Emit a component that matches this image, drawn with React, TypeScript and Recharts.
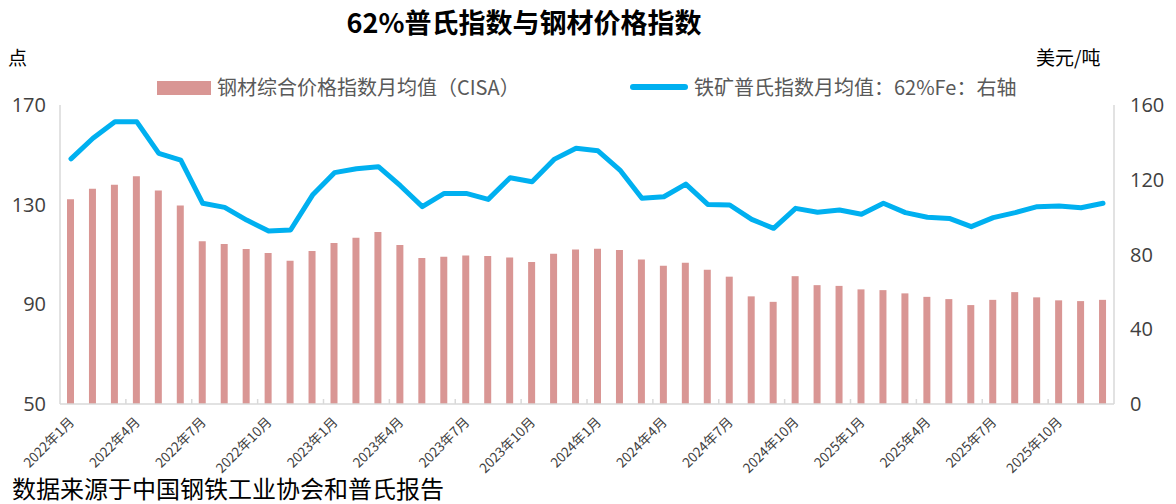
import React from "react";
import { ComposedChart, Bar, Line, XAxis, YAxis } from "recharts";

const months = [
  "2022年1月", "2022年2月", "2022年3月", "2022年4月", "2022年5月", "2022年6月",
  "2022年7月", "2022年8月", "2022年9月", "2022年10月", "2022年11月", "2022年12月",
  "2023年1月", "2023年2月", "2023年3月", "2023年4月", "2023年5月", "2023年6月",
  "2023年7月", "2023年8月", "2023年9月", "2023年10月", "2023年11月", "2023年12月",
  "2024年1月", "2024年2月", "2024年3月", "2024年4月", "2024年5月", "2024年6月",
  "2024年7月", "2024年8月", "2024年9月", "2024年10月", "2024年11月", "2024年12月",
  "2025年1月", "2025年2月", "2025年3月", "2025年4月", "2025年5月", "2025年6月",
  "2025年7月", "2025年8月", "2025年9月", "2025年10月", "2025年11月", "2025年12月",
];

// 钢材综合价格指数月均值 (CISA), left axis
const steelIndex = [
  132.2, 136.4, 138.0, 141.4, 135.7, 129.7, 115.3, 114.2, 112.2, 110.6,
  107.5, 111.4, 114.6, 116.7, 119.0, 113.8, 108.6, 109.1, 109.6, 109.4,
  108.8, 107.0, 110.3, 112.0, 112.3, 111.8, 108.0, 105.5, 106.7, 103.9,
  101.1, 93.2, 91.0, 101.3, 97.7, 97.4, 96.0, 95.7, 94.4, 93.0,
  92.1, 89.7, 91.8, 94.9, 92.8, 91.6, 91.3, 91.8,
];

// 铁矿普氏指数月均值 62%Fe, right axis (美元/吨)
const plattsIndex = [
  131.2, 142.2, 151.0, 151.0, 134.1, 130.5, 107.4, 105.2, 98.4, 92.6,
  93.1, 111.8, 123.8, 125.9, 127.0, 116.8, 105.6, 112.7, 112.7, 109.5,
  121.1, 118.9, 130.9, 136.8, 135.5, 125.2, 110.1, 110.9, 117.7, 106.8,
  106.5, 98.8, 94.0, 104.7, 102.6, 103.8, 101.5, 107.4, 102.4, 99.9,
  99.3, 94.9, 99.7, 102.4, 105.6, 105.9, 105.0, 107.4,
];

const leftTicks = [50, 90, 130, 170];
const rightTicks = [0, 40, 80, 120, 160];

const data = months.map((m, i) => ({
  month: m,
  steel: steelIndex[i],
  platts: plattsIndex[i],
}));

const BAR_COLOR = "#d99694";
const LINE_COLOR = "#00b0f0";
const AXIS_COLOR = "#d9d9d9";
const TEXT_COLOR = "#404040";
const CJK = "'Noto Sans CJK SC', 'Open Sans', sans-serif";

const W = 1176;
const H = 504;
const LEFT_W = 60;
const RIGHT_W = 62;
const STEP = (W - LEFT_W - RIGHT_W) / months.length;

const MonthTick = (props: any) => {
  const { x, y, payload, index } = props;
  return (
    <g>
      {index > 0 && (
        <line x1={x - STEP / 2} x2={x - STEP / 2} y1={y - 5} y2={y} stroke={AXIS_COLOR} strokeWidth={1.5} />
      )}
      <g transform={`translate(${x + 4},${y + 19})`}>
        <text
          x={0}
          y={0}
          textAnchor="end"
          transform="rotate(-45)"
          fontSize={13.5}
          fontFamily={CJK}
          fill={TEXT_COLOR}
        >
          {payload.value}
        </text>
      </g>
    </g>
  );
};

function App() {
  return (
    <div style={{ position: "absolute", left: 0, top: 0, width: W, height: H, background: "#fff" }}>
      <div
        style={{
          position: "absolute", left: 324, width: 400, top: 4, textAlign: "center",
          fontFamily: CJK, fontWeight: 700, fontSize: 27, color: "#000", lineHeight: 1.3,
        }}
      >
        62%普氏指数与钢材价格指数
      </div>
      <div style={{ position: "absolute", left: 8, top: 43, fontFamily: CJK, fontSize: 19, color: "#000" }}>点</div>
      <div style={{ position: "absolute", left: 1036, top: 43, fontFamily: CJK, fontSize: 19, color: "#000" }}>美元/吨</div>

      {/* legend */}
      <div style={{ position: "absolute", left: 0, top: 73, width: W, height: 30, fontFamily: CJK, fontSize: 20, color: "#595959" }}>
        <div style={{ position: "absolute", left: 157, top: 8, width: 54, height: 14, background: BAR_COLOR }} />
        <div style={{ position: "absolute", left: 217, top: 0, whiteSpace: "nowrap", lineHeight: "28px" }}>
          钢材综合价格指数月均值（CISA）
        </div>
        <div style={{ position: "absolute", left: 630, top: 11, width: 58, height: 6, borderRadius: 3, background: LINE_COLOR }} />
        <div style={{ position: "absolute", left: 694, top: 0, whiteSpace: "nowrap", lineHeight: "28px" }}>
          铁矿普氏指数月均值：62%Fe：右轴
        </div>
      </div>

      <div style={{ position: "absolute", left: 12, top: 474, fontFamily: CJK, fontSize: 24, lineHeight: "28px", color: "#000" }}>
        数据来源于中国钢铁工业协会和普氏报告
      </div>

      <ComposedChart
        width={W}
        height={H}
        data={data}
        margin={{ top: 105, right: 0, bottom: 0, left: 0 }}
        style={{ position: "absolute", left: 0, top: 0 }}
      >
        <XAxis
          dataKey="month"
          interval={2}
          height={100}
          tick={<MonthTick />}
          tickSize={0}
          tickMargin={0}
          tickLine={false}
          axisLine={{ stroke: AXIS_COLOR, strokeWidth: 1.5 }}
        />
        <YAxis
          yAxisId="left"
          orientation="left"
          width={LEFT_W}
          domain={[50, 170]}
          ticks={leftTicks}
          tickSize={0}
          tickMargin={14}
          tickLine={false}
          axisLine={{ stroke: AXIS_COLOR, strokeWidth: 1.5 }}
          tick={{ fill: TEXT_COLOR, fontSize: 20, fontFamily: "'Open Sans', sans-serif" }}
        />
        <YAxis
          yAxisId="right"
          orientation="right"
          width={RIGHT_W}
          domain={[0, 160]}
          ticks={rightTicks}
          tickSize={0}
          tickMargin={16}
          tickLine={false}
          axisLine={{ stroke: AXIS_COLOR, strokeWidth: 1.5 }}
          tick={{ fill: TEXT_COLOR, fontSize: 20, fontFamily: "'Open Sans', sans-serif", textAnchor: "start" }}
        />
        <Bar
          yAxisId="left"
          dataKey="steel"
          name="钢材综合价格指数月均值（CISA）"
          fill={BAR_COLOR}
          barSize={7}
          isAnimationActive={false}
        />
        <Line
          yAxisId="right"
          dataKey="platts"
          name="铁矿普氏指数月均值：62%Fe：右轴"
          type="linear"
          stroke={LINE_COLOR}
          strokeWidth={5}
          strokeLinejoin="round"
          strokeLinecap="round"
          dot={false}
          activeDot={false}
          isAnimationActive={false}
        />
      </ComposedChart>
    </div>
  );
}

export default App;
